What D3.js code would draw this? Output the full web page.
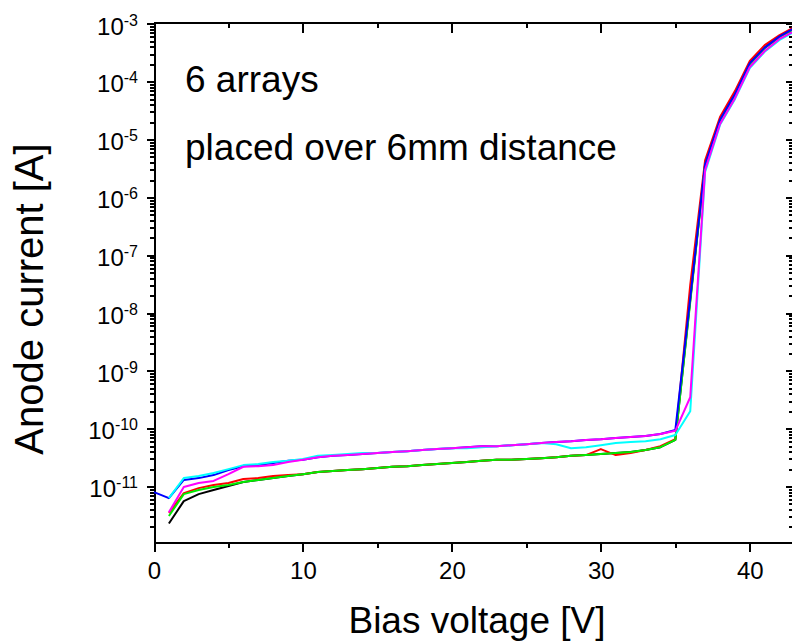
<!DOCTYPE html>
<html lang="en">
<head>
  <meta charset="UTF-8">
  <title>Anode current vs bias voltage</title>
  <script src="https://d3js.org/d3.v7.min.js"></script>
  <style>
    body { margin: 0; background: #fff; }
    svg { display: block; font-family: Arial, "Liberation Sans", sans-serif; }
    .axis path, .axis line {
      fill: none;
      stroke: #000;
      stroke-width: 2px;
      shape-rendering: crispEdges;
    }
    .line {
      fill: none;
      stroke-width: 2px;
      stroke-linejoin: round;
    }
  </style>
</head>
<body>
  <svg width="792" height="644"></svg>
  <script>
    // bias voltage [V], one point per volt
    var voltage = [0, 1, 2, 3, 4, 5, 6, 7, 8, 9, 10, 11, 12, 13, 14, 15, 16, 17, 18, 19, 20,
                   21, 22, 23, 24, 25, 26, 27, 28, 29, 30, 31, 32, 33, 34, 35, 36, 37, 38, 39, 40,
                   41, 42, 43];

    // anode current [A] of the 6 arrays
    var black = [null, 2.3e-12, 5.6e-12, 7.4e-12, 8.7e-12, 1.02e-11, 1.2e-11, 1.3e-11, 1.4e-11, 1.52e-11, 1.64e-11,
                 1.78e-11, 1.85e-11, 1.93e-11, 2.0e-11, 2.1e-11, 2.2e-11, 2.25e-11, 2.35e-11, 2.45e-11, 2.55e-11,
                 2.65e-11, 2.8e-11, 2.9e-11, 2.9e-11, 3.0e-11, 3.1e-11, 3.2e-11, 3.4e-11, 3.5e-11, 3.65e-11,
                 3.8e-11, 3.95e-11, 4.3e-11, 4.8e-11, 6.4e-11, 1.68e-8, 3.75e-6, 2.2e-5, 6.1e-5, 2.1e-4,
                 3.9e-4, 6.1e-4, 8.5e-4];
    var red = [null, 3.5e-12, 7.7e-12, 9.4e-12, 1.06e-11, 1.15e-11, 1.35e-11, 1.4e-11, 1.52e-11, 1.58e-11, 1.64e-11,
               1.78e-11, 1.85e-11, 1.93e-11, 2.0e-11, 2.1e-11, 2.2e-11, 2.25e-11, 2.35e-11, 2.45e-11, 2.55e-11,
               2.65e-11, 2.8e-11, 2.9e-11, 2.9e-11, 3.0e-11, 3.1e-11, 3.2e-11, 3.4e-11, 3.5e-11, 4.45e-11,
               3.5e-11, 3.8e-11, 4.3e-11, 5.0e-11, 6.6e-11, 3.05e-8, 4.4e-6, 2.45e-5, 6.9e-5, 2.3e-4,
               4.3e-4, 6.4e-4, 8.8e-4];
    var green = [null, 3.1e-12, 7.4e-12, 8.7e-12, 9.8e-12, 1.06e-11, 1.2e-11, 1.3e-11, 1.4e-11, 1.52e-11, 1.64e-11,
                 1.78e-11, 1.85e-11, 1.93e-11, 2.0e-11, 2.1e-11, 2.2e-11, 2.25e-11, 2.35e-11, 2.45e-11, 2.55e-11,
                 2.65e-11, 2.8e-11, 2.9e-11, 2.9e-11, 3.0e-11, 3.1e-11, 3.2e-11, 3.4e-11, 3.5e-11, 3.65e-11,
                 3.8e-11, 3.95e-11, 4.3e-11, 4.8e-11, 6.4e-11, 1.55e-8, 3.6e-6, 2.1e-5, 5.9e-5, 2.0e-4,
                 3.8e-4, 5.9e-4, 8.2e-4];
    var blue = [8.0e-12, 6.3e-12, 1.3e-11, 1.4e-11, 1.58e-11, 1.93e-11, 2.25e-11, 2.35e-11, 2.55e-11, 2.8e-11, 2.9e-11,
                3.2e-11, 3.4e-11, 3.5e-11, 3.65e-11, 3.8e-11, 3.95e-11, 4.1e-11, 4.3e-11, 4.45e-11, 4.6e-11,
                4.8e-11, 5.0e-11, 5.0e-11, 5.2e-11, 5.4e-11, 5.65e-11, 5.9e-11, 6.1e-11, 6.4e-11, 6.6e-11,
                6.9e-11, 7.2e-11, 7.5e-11, 8.1e-11, 9.5e-11, 1.8e-8, 3.75e-6, 2.2e-5, 6.1e-5, 2.1e-4,
                3.9e-4, 6.1e-4, 8.5e-4];
    var cyan = [null, 6.3e-12, 1.4e-11, 1.52e-11, 1.71e-11, 2.0e-11, 2.35e-11, 2.45e-11, 2.65e-11, 2.8e-11, 3.0e-11,
                3.4e-11, 3.5e-11, 3.65e-11, 3.8e-11, 3.8e-11, 3.95e-11, 4.1e-11, 4.3e-11, 4.45e-11, 4.6e-11,
                4.6e-11, 4.8e-11, 5.0e-11, 5.2e-11, 5.4e-11, 5.65e-11, 5.4e-11, 4.6e-11, 4.8e-11, 5.2e-11,
                5.65e-11, 5.9e-11, 6.1e-11, 6.6e-11, 7.8e-11, 2.0e-10, 2.75e-6, 1.8e-5, 5.0e-5, 1.73e-4,
                3.3e-4, 5.3e-4, 7.3e-4];
    var magenta = [null, 3.6e-12, 9.8e-12, 1.15e-11, 1.25e-11, 1.64e-11, 2.2e-11, 2.25e-11, 2.35e-11, 2.65e-11, 2.9e-11,
                   3.2e-11, 3.4e-11, 3.5e-11, 3.65e-11, 3.8e-11, 3.95e-11, 4.1e-11, 4.3e-11, 4.45e-11, 4.6e-11,
                   4.8e-11, 5.0e-11, 5.0e-11, 5.2e-11, 5.4e-11, 5.65e-11, 5.9e-11, 6.1e-11, 6.4e-11, 6.6e-11,
                   6.9e-11, 7.2e-11, 7.5e-11, 8.1e-11, 9.2e-11, 3.5e-10, 3.0e-6, 1.86e-5, 5.2e-5, 1.8e-4,
                   3.4e-4, 5.5e-4, 7.5e-4];

    var xTicks = [0, 10, 20, 30, 40],
        xMinor = [5, 15, 25, 35],
        yTicks = [1e-11, 1e-10, 1e-9, 1e-8, 1e-7, 1e-6, 1e-5, 1e-4, 1e-3];

    var svg = d3.select("svg"),
        plotL = 154, plotR = 793, plotT = 22, plotB = 542;

    var x = d3.scaleLinear().domain([0, 42.9]).range([plotL, plotR]);
    var y = d3.scaleLog().domain([1.1e-12, 1.08e-3]).range([plotB, plotT]);

    // minor log ticks: 2..9 x 10^n
    var yMinor = y.ticks().filter(function(d) {
      var e = Math.log10(d);
      return Math.abs(e - Math.round(e)) > 1e-6;
    });

    function styleAxis(g) {
      g.attr("font-family", null).attr("font-size", null);
      g.selectAll("text").attr("fill", "#000").style("font-size", "24px");
    }

    // bottom
    svg.append("g").attr("class", "axis")
       .attr("transform", "translate(0," + plotB + ")")
       .call(d3.axisBottom(x).tickValues(xTicks).tickSize(10).tickPadding(10).tickSizeOuter(0))
       .call(styleAxis);
    svg.append("g").attr("class", "axis")
       .attr("transform", "translate(0," + plotB + ")")
       .call(d3.axisBottom(x).tickValues(xMinor).tickSize(6).tickFormat("").tickSizeOuter(0))
       .call(function(g) { g.select(".domain").remove(); });

    // top (ticks inward)
    svg.append("g").attr("class", "axis")
       .attr("transform", "translate(0," + plotT + ")")
       .call(d3.axisTop(x).tickValues(xTicks).tickSize(-11).tickFormat("").tickSizeOuter(0));
    svg.append("g").attr("class", "axis")
       .attr("transform", "translate(0," + plotT + ")")
       .call(d3.axisTop(x).tickValues(xMinor).tickSize(-6).tickFormat("").tickSizeOuter(0))
       .call(function(g) { g.select(".domain").remove(); });

    // left, labels as 10^n
    svg.append("g").attr("class", "axis")
       .attr("transform", "translate(" + plotL + ",0)")
       .call(d3.axisLeft(y).tickValues(yTicks).tickSize(7).tickPadding(9).tickSizeOuter(0))
       .call(styleAxis)
       .call(function(g) {
         g.selectAll(".tick text")
          .text(null)
          .attr("dy", "0.42em")
          .each(function(d) {
            var t = d3.select(this);
            t.append("tspan").text("10");
            t.append("tspan").attr("dy", -9).style("font-size", "16px")
             .text(Math.round(Math.log10(d)));
          });
       });
    svg.append("g").attr("class", "axis")
       .attr("transform", "translate(" + plotL + ",0)")
       .call(d3.axisLeft(y).tickValues(yMinor).tickSize(4).tickFormat("").tickSizeOuter(0))
       .call(function(g) { g.select(".domain").remove(); });

    // right (ticks inward, no labels)
    svg.append("g").attr("class", "axis")
       .attr("transform", "translate(" + plotR + ",0)")
       .call(d3.axisRight(y).tickValues(yTicks).tickSize(-7).tickFormat("").tickSizeOuter(0));
    svg.append("g").attr("class", "axis")
       .attr("transform", "translate(" + plotR + ",0)")
       .call(d3.axisRight(y).tickValues(yMinor).tickSize(-4).tickFormat("").tickSizeOuter(0))
       .call(function(g) { g.select(".domain").remove(); });

    // curves
    var series = [
      {color: "#000000", values: black},
      {color: "#ff0000", values: red},
      {color: "#00ee00", values: green},
      {color: "#0000ff", values: blue},
      {color: "#00ffff", values: cyan},
      {color: "#ff00ff", values: magenta}
    ];

    var line = d3.line()
        .defined(function(d) { return d[1] != null; })
        .x(function(d) { return x(d[0]); })
        .y(function(d) { return y(d[1]); });

    svg.selectAll(".line")
       .data(series)
       .enter().append("path")
       .attr("class", "line")
       .style("stroke", function(d) { return d.color; })
       .attr("d", function(d) {
         return line(voltage.map(function(v, i) { return [v, d.values[i]]; }));
       });

    // notes
    svg.append("text").attr("x", 185).attr("y", 92).attr("font-size", 37).text("6 arrays");
    svg.append("text").attr("x", 185).attr("y", 160).attr("font-size", 37).text("placed over 6mm distance");

    // axis titles
    svg.append("text")
       .attr("x", 477).attr("y", 633)
       .attr("text-anchor", "middle")
       .attr("font-size", 37)
       .text("Bias voltage [V]");
    svg.append("text")
       .attr("transform", "translate(43,299) rotate(-90)")
       .attr("text-anchor", "middle")
       .attr("font-size", 40)
       .text("Anode current [A]");
  </script>
</body>
</html>
